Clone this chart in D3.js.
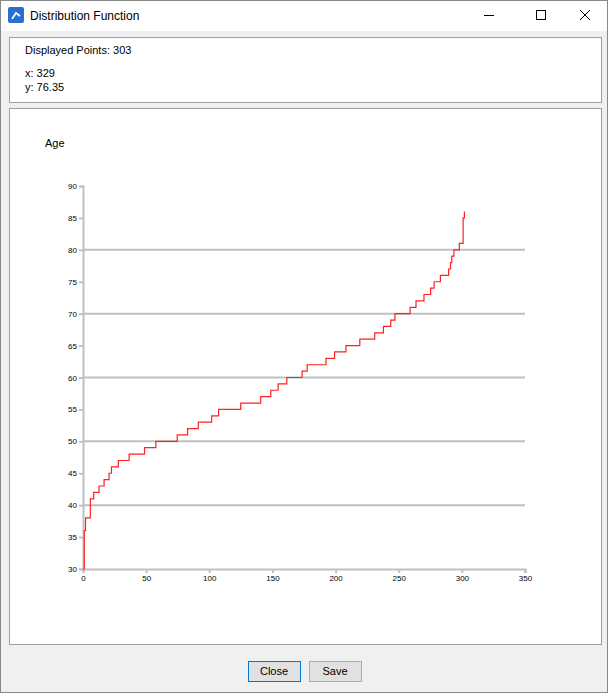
<!DOCTYPE html>
<html><head><meta charset="utf-8">
<script src="https://cdn.jsdelivr.net/npm/d3@7"></script>
<style>
body{margin:0;background:#fff;font-family:"Liberation Sans",Arial,sans-serif;}
.tick text{font-size:8px;fill:#000;}
</style></head>
<body><div id="win"></div>
<script>
// step points: x index where age steps up
var stepX = [0, 1, 2, 3, 5.8, 8.5, 12.7, 16.7, 20.6, 22.5, 28, 36.5, 48.7, 57.7, 74.6, 82.8, 91.3, 101.9, 107.4, 124.9, 140.7, 148.7, 154.5, 161.4, 173.5, 177.5, 192.4, 199.2, 208.2, 219.2, 231, 237.9, 243.7, 247, 259, 263.7, 270, 275.3, 278, 283, 289.5, 291, 292, 293.7, 298, 300, 301, 302];
var stepAge = [30, 36, 38, 38, 41, 42, 43, 44, 45, 46, 47, 48, 49, 50, 51, 52, 53, 54, 55, 56, 57, 58, 59, 60, 61, 62, 63, 64, 65, 66, 67, 68, 69, 70, 71, 72, 73, 74, 75, 76, 77, 78, 79, 80, 81, 81, 85, 86];
var xTicks = [0, 50, 100, 150, 200, 250, 300, 350];
var yTicks = [30, 35, 40, 45, 50, 55, 60, 65, 70, 75, 80, 85, 90];
var gridAges = [40, 50, 60, 70, 80];

var W = 608, H = 693;
var svg = d3.select("#win").append("svg").attr("width", W).attr("height", H);
svg.append("rect").attr("x", 0.5).attr("y", 0.5).attr("width", W - 1).attr("height", H - 1)
    .attr("fill", "#f0f0f0").attr("stroke", "#888");
svg.append("rect").attr("x", 1).attr("y", 1).attr("width", W - 2).attr("height", 30).attr("fill", "#fff");

// title bar
var icon = svg.append("g").attr("transform", "translate(8,7)");
icon.append("rect").attr("width", 16).attr("height", 16).attr("rx", 2).attr("fill", "#2a6fd0");
icon.append("path").attr("d", "M4,12 L8,6 L12,9").attr("stroke", "#fff").attr("stroke-width", 1.6).attr("fill", "none");
svg.append("text").attr("x", 30).attr("y", 20).attr("font-size", 12).text("Distribution Function");
svg.append("line").attr("x1", 484).attr("x2", 494).attr("y1", 15.5).attr("y2", 15.5).attr("stroke", "#000");
svg.append("rect").attr("x", 536.5).attr("y", 10.5).attr("width", 9).attr("height", 9).attr("fill", "none").attr("stroke", "#000");
svg.append("path").attr("d", "M580,10 L590,20 M590,10 L580,20").attr("stroke", "#000");

// info panel
svg.append("rect").attr("x", 9.5).attr("y", 37.5).attr("width", 592).attr("height", 65).attr("fill", "#fff").attr("stroke", "#a0a0a0");
svg.append("text").attr("x", 25).attr("y", 54).attr("font-size", 11).text("Displayed Points: 303");
svg.append("text").attr("x", 25).attr("y", 77).attr("font-size", 11).text("x: 329");
svg.append("text").attr("x", 25).attr("y", 91).attr("font-size", 11).text("y: 76.35");

// chart panel
svg.append("rect").attr("x", 9.5).attr("y", 108.5).attr("width", 592).attr("height", 536).attr("fill", "#fff").attr("stroke", "#a0a0a0");
svg.append("text").attr("x", 45).attr("y", 147).attr("font-size", 11).text("Age");

var x = d3.scaleLinear().domain([0, 350]).range([83, 525]);
var y = d3.scaleLinear().domain([30, 90]).range([569, 186]);

svg.selectAll(".grid").data(gridAges).enter().append("line")
    .attr("x1", x(0)).attr("x2", x(350))
    .attr("y1", function(d) { return y(d); }).attr("y2", function(d) { return y(d); })
    .attr("stroke", "#c0c0c0").attr("stroke-width", 2);

var xa = svg.append("g").attr("transform", "translate(0," + y(30) + ")")
    .call(d3.axisBottom(x).tickValues(xTicks).tickSize(4).tickPadding(2));
var ya = svg.append("g").attr("transform", "translate(" + x(0) + ",0)")
    .call(d3.axisLeft(y).tickValues(yTicks).tickSize(4).tickPadding(2));
[xa, ya].forEach(function(a) {
  a.select(".domain").attr("stroke", "#c0c0c0").attr("stroke-width", 2);
  a.selectAll(".tick line").attr("stroke", "#c0c0c0").attr("stroke-width", 2);
  a.attr("font-family", "Liberation Sans, Arial, sans-serif");
});

var pts = stepX.map(function(d, i) { return [d, stepAge[i]]; });
var line = d3.line().x(function(d) { return x(d[0]); }).y(function(d) { return y(d[1]); })
    .curve(d3.curveStepAfter);
svg.append("path").datum(pts).attr("d", line).attr("fill", "none")
    .attr("stroke", "#ff2020").attr("stroke-width", 1.2);

// buttons
[["Close", 248], ["Save", 309]].forEach(function(b, i) {
  svg.append("rect").attr("x", b[1] + 0.5).attr("y", 661.5).attr("width", 52).attr("height", 20)
      .attr("fill", "#e1e1e1").attr("stroke", i == 0 ? "#0078d7" : "#adadad");
  svg.append("text").attr("x", b[1] + 26).attr("y", 675).attr("text-anchor", "middle")
      .attr("font-size", 11).text(b[0]);
});
</script></body></html>
